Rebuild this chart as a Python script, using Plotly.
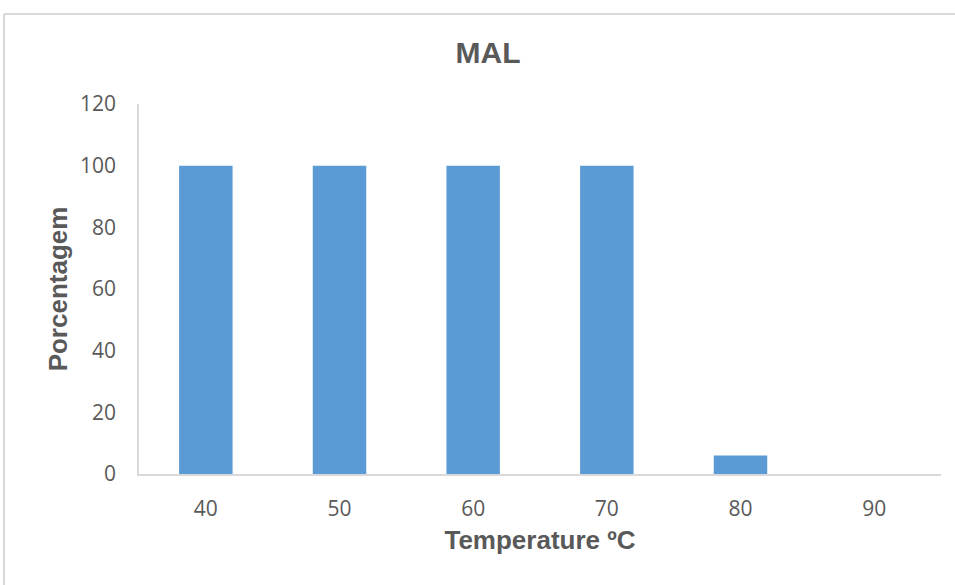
import plotly.graph_objects as go

temperatures = ["40", "50", "60", "70", "80", "90"]
percentages = [100, 100, 100, 100, 6, 0]
y_ticks = [0, 20, 40, 60, 80, 100, 120]

grey_text = "#595959"
axis_grey = "#d9d9d9"
bar_blue = "#5b9bd5"
bold_font = "Liberation Sans, Arial, sans-serif"

fig = go.Figure(
    go.Bar(
        x=temperatures,
        y=percentages,
        marker=dict(color=bar_blue, line=dict(width=0)),
        width=0.4,
    )
)

# Plot-area geometry (pixels) used to place the outer chart frame
L, R, T, B = 139, 14, 104, 111
W, H = 955, 585
pw, ph = W - L - R, H - T - B
fx0 = (4 - L) / pw
fy1 = (H - B - 14) / ph

fig.update_layout(
    width=W,
    height=H,
    margin=dict(l=L, r=R, t=T, b=B),
    paper_bgcolor="white",
    plot_bgcolor="white",
    showlegend=False,
    title=dict(
        text="<b>MAL</b>",
        x=(488 / W),
        xanchor="center",
        y=1 - 52 / H,
        yanchor="middle",
        font=dict(family=bold_font, size=30, color=grey_text),
    ),
    font=dict(family="Open Sans, sans-serif", size=21, color=grey_text),
    shapes=[
        dict(type="line", xref="paper", yref="paper", x0=fx0, x1=1.2, y0=fy1, y1=fy1,
             line=dict(color=axis_grey, width=2)),
        dict(type="line", xref="paper", yref="paper", x0=fx0, x1=fx0, y0=fy1, y1=-0.5,
             line=dict(color=axis_grey, width=2)),
    ],
)

fig.update_xaxes(
    type="category",
    showline=True,
    linecolor=axis_grey,
    linewidth=1.5,
    showgrid=False,
    ticks="",
    ticklabelstandoff=15,
    tickfont=dict(size=21, color=grey_text),
    title=dict(
        text="<b>Temperature ºC</b>",
        font=dict(family=bold_font, size=26, color=grey_text),
        standoff=10,
    ),
)

fig.update_yaxes(
    range=[0, 120],
    tickvals=y_ticks,
    showline=True,
    linecolor=axis_grey,
    linewidth=1.5,
    showgrid=False,
    zeroline=False,
    ticks="",
    ticklabelstandoff=17,
    tickfont=dict(size=21, color=grey_text),
    title=dict(
        text="<b>Porcentagem</b>",
        font=dict(family=bold_font, size=26, color=grey_text),
        standoff=5,
    ),
)

fig.write_html("out.html")
